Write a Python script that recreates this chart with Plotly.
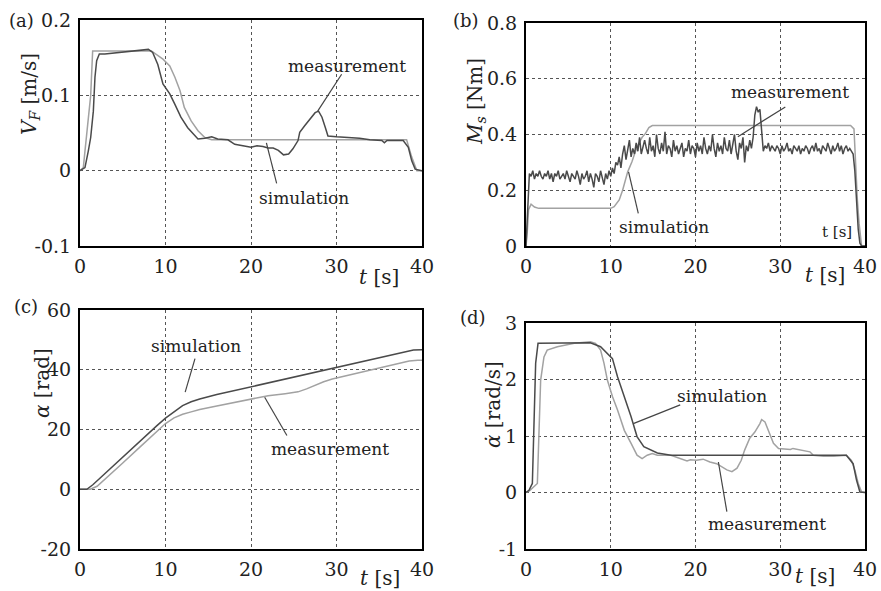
import plotly.graph_objects as go

# ---------------- data ----------------
# (a) V_F [m/s]
a_sim_t = [0, 0.39, 0.58, 0.97, 1.25, 1.48, 8.35, 9.7, 10.5, 11.1, 11.7, 12.2, 13.0, 13.8, 14.6, 15.4, 38.2, 38.8, 39.4, 40]
a_sim_v = [0, 0.004, 0.026, 0.066, 0.10, 0.159, 0.159, 0.148, 0.139, 0.124, 0.106, 0.084, 0.066, 0.053, 0.044, 0.041, 0.041, 0.018, 0.0, 0.0]
a_meas_t = [0, 0.58, 0.97, 1.25, 1.56, 1.75, 1.95, 2.26, 2.9, 4.4, 6.8, 8.0, 8.5, 9.1, 9.7, 10.5, 11.1, 11.8, 12.6, 13.8,
            14.6, 15.4, 16.1, 17.3, 18.1, 19.3, 20.0, 20.7, 21.4, 22.0, 22.6, 23.2, 23.8, 24.4, 24.9, 25.5, 25.7, 26.3,
            26.9, 27.5, 27.9, 28.3, 28.7, 29.0, 30.0, 31.6, 32.7, 33.9, 35.3, 35.6, 35.9, 37.8, 38.4, 38.8, 39.2, 40]
a_meas_v = [0, 0.004, 0.026, 0.044, 0.079, 0.124, 0.146, 0.155, 0.155, 0.157, 0.160, 0.161, 0.157, 0.141, 0.115, 0.102,
            0.088, 0.071, 0.057, 0.042, 0.043, 0.045, 0.042, 0.041, 0.035, 0.033, 0.031, 0.033, 0.032, 0.030, 0.030,
            0.027, 0.021, 0.022, 0.029, 0.040, 0.051, 0.060, 0.068, 0.077, 0.079, 0.071, 0.057, 0.046, 0.045, 0.044,
            0.043, 0.041, 0.040, 0.037, 0.040, 0.040, 0.031, 0.013, 0.002, 0.0]

# (b) M_s [Nm]
b_sim_t = [0, 0.15, 0.3, 0.6, 1.0, 1.5, 10.0, 10.4, 11.0, 11.4, 12.0, 12.5, 13.1, 13.7, 14.1, 14.5, 14.9, 38.3, 38.7, 38.9, 39.1, 39.3, 39.6, 40]
b_sim_v = [0, 0.05, 0.13, 0.15, 0.14, 0.135, 0.135, 0.141, 0.165, 0.20, 0.266, 0.302, 0.356, 0.39, 0.404, 0.425, 0.432,
           0.432, 0.42, 0.284, 0.165, 0.082, 0.0, 0.0]
b_meas_dt = 0.2  # sampling step of the measured torque [s]
b_meas_v = [0, 0.12,
            0.26, 0.25, 0.27, 0.24, 0.26, 0.25, 0.27, 0.25, 0.24, 0.26,
            0.25, 0.27, 0.24, 0.26, 0.23, 0.26, 0.25, 0.27, 0.24, 0.25,
            0.26, 0.24, 0.27, 0.25, 0.23, 0.26, 0.25, 0.24, 0.27, 0.25,
            0.22, 0.26, 0.24, 0.25, 0.27, 0.23, 0.26, 0.24, 0.21, 0.26,
            0.25, 0.23, 0.27, 0.24, 0.22, 0.26, 0.24, 0.27, 0.25,
            0.28, 0.26, 0.30, 0.29, 0.32, 0.28, 0.33, 0.36, 0.31, 0.34,
            0.38, 0.32, 0.35, 0.33, 0.37, 0.34, 0.39, 0.33, 0.36, 0.38,
            0.35, 0.33, 0.39, 0.34, 0.36, 0.32, 0.40, 0.35, 0.33, 0.37,
            0.34, 0.41, 0.33, 0.36, 0.35, 0.32, 0.38, 0.34, 0.36, 0.33,
            0.35, 0.37, 0.32, 0.35, 0.34, 0.38, 0.33, 0.36, 0.35, 0.32,
            0.37, 0.34, 0.36, 0.33, 0.39, 0.35, 0.33, 0.36, 0.34, 0.40,
            0.35, 0.32, 0.37, 0.34, 0.36, 0.33, 0.39, 0.35, 0.34, 0.38,
            0.33, 0.36, 0.40, 0.34, 0.31, 0.37, 0.35, 0.39, 0.30, 0.36,
            0.34, 0.38, 0.35, 0.39,
            0.47, 0.50, 0.48, 0.49, 0.42, 0.34,
            0.36, 0.35, 0.37, 0.34, 0.36, 0.35, 0.34, 0.36, 0.35, 0.33,
            0.36, 0.34, 0.35, 0.37, 0.34, 0.35, 0.33, 0.36, 0.35, 0.34,
            0.36, 0.33, 0.35, 0.34, 0.36, 0.35, 0.33, 0.35, 0.36, 0.34,
            0.37, 0.34, 0.35, 0.33, 0.36, 0.35, 0.34, 0.37, 0.35, 0.33,
            0.36, 0.34, 0.35, 0.37, 0.34, 0.36, 0.33, 0.35, 0.36, 0.34,
            0.35, 0.34,
            0.33, 0.27, 0.15, 0.06, 0.01, 0.0, 0.0, 0.0]
b_meas_t = [round(i * b_meas_dt, 2) for i in range(len(b_meas_v))]

# (c) alpha [rad]
c_sim_t = [0, 0.8, 1.5, 3, 5, 7, 9, 10, 11, 12, 13, 14, 16, 18, 20, 25, 30, 35, 38, 39, 40]
c_sim_v = [0, 0, 1.5, 5.5, 10.8, 16.1, 21.3, 23.8, 26.0, 28.0, 29.3, 30.2, 31.7, 33.0, 34.3, 37.6, 40.9, 44.2, 46.2, 46.6, 46.7]
c_meas_t = [0, 1.2, 2, 3, 5, 7, 8, 9, 10, 11, 12, 13, 14, 16, 18, 20, 22, 24, 25.5, 26.5, 27.5, 28.5, 29.5, 31, 33, 35, 37, 38.5, 39.5, 40]
c_meas_v = [0, 0, 1.0, 3.5, 8.8, 14.1, 16.8, 19.4, 22.0, 23.9, 25.1, 25.9, 26.7, 27.9, 29.1, 30.3, 31.3, 32.0, 32.6, 33.6,
            34.8, 36.0, 36.9, 37.9, 39.3, 40.7, 42.0, 42.9, 43.2, 43.2]

# (d) alpha-dot [rad/s]
d_sim_t = [0, 0.35, 0.75, 0.94, 1.14, 1.42, 7.6, 8.8, 9.8, 10.2, 10.8, 11.6, 12.4, 13.1, 13.9, 15.5, 17.1, 37.8, 38.6, 39.0, 39.4, 40]
d_sim_v = [0, 0.04, 0.16, 1.10, 2.29, 2.64, 2.65, 2.58, 2.43, 2.37, 2.05, 1.70, 1.34, 0.99, 0.81, 0.70, 0.66, 0.66, 0.51, 0.22, 0.01, 0]
d_meas_t = [0, 0.4, 1.34, 1.53, 1.73, 2.12, 2.5, 3.7, 5.7, 7.6, 8.2, 8.8, 9.2, 9.6, 10.2, 10.8, 11.6, 12.4, 13.1, 13.7,
            14.3, 14.9, 15.5, 17.1, 18.3, 19.0, 19.4, 20.1, 20.9, 21.7, 22.5, 23.1, 23.7, 24.3, 24.9, 25.4, 25.8, 26.4,
            27.0, 27.6, 27.8, 28.2, 28.6, 28.8, 29.2, 29.8, 31.2, 31.5, 32.7, 33.5, 33.9, 35.1, 36.3, 37.8, 38.4, 38.8,
            39.2, 39.6, 40]
d_meas_v = [0, 0.03, 0.16, 1.10, 1.99, 2.40, 2.52, 2.58, 2.64, 2.67, 2.64, 2.52, 2.29, 1.99, 1.70, 1.46, 1.10, 0.87, 0.66,
            0.60, 0.66, 0.69, 0.66, 0.66, 0.60, 0.56, 0.58, 0.57, 0.59, 0.54, 0.51, 0.45, 0.40, 0.37, 0.43, 0.57, 0.75,
            0.96, 1.07, 1.22, 1.29, 1.25, 1.10, 0.99, 0.87, 0.78, 0.76, 0.78, 0.75, 0.72, 0.66, 0.64, 0.64, 0.66, 0.57,
            0.40, 0.16, 0.01, 0]

x_ticks = [0, 10, 20, 30, 40]
a_yticks = [-0.1, 0, 0.1, 0.2]
a_ytext = ['-0.1', '0', '0.1', '0.2']
b_yticks = [0, 0.2, 0.4, 0.6, 0.8]
b_ytext = ['0', '0.2', '0.4', '0.6', '0.8']
c_yticks = [-20, 0, 20, 40, 60]
c_ytext = ['-20', '0', '20', '40', '60']
d_yticks = [-1, 0, 1, 2, 3]
d_ytext = ['-1', '0', '1', '2', '3']

# ---------------- styling ----------------
W, H = 881, 591
FONT = 'DejaVu Serif'
DARK = '#4a4a4a'
LIGHT = '#a2a2a2'
TXT = '#222222'


def px_dom_x(l, r):
    return [l / W, r / W]


def px_dom_y(t, b):
    return [1 - b / H, 1 - t / H]


fig = go.Figure()

panels = [
    ('a', 'x', 'y', [(a_sim_t, a_sim_v, LIGHT), (a_meas_t, a_meas_v, DARK)], (80, 422), (20, 246), [-0.1, 0.2], a_yticks, a_ytext),
    ('b', 'x2', 'y2', [(b_sim_t, b_sim_v, LIGHT), (b_meas_t, b_meas_v, DARK)], (526, 865), (23, 246), [0, 0.8], b_yticks, b_ytext),
    ('c', 'x3', 'y3', [(c_meas_t, c_meas_v, LIGHT), (c_sim_t, c_sim_v, DARK)], (80, 422), (310, 549), [-20, 60], c_yticks, c_ytext),
    ('d', 'x4', 'y4', [(d_meas_t, d_meas_v, LIGHT), (d_sim_t, d_sim_v, DARK)], (526, 865), (323, 549), [-1, 3], d_yticks, d_ytext),
]

layout_axes = {}
for name, xa, ya, trs, xd, yd, yr, yt, ytt in panels:
    for t, v, col in trs:
        fig.add_trace(go.Scatter(x=t, y=v, mode='lines', xaxis=xa, yaxis=ya,
                                 line=dict(color=col, width=1.5), showlegend=False, hoverinfo='skip'))
    xkey = 'xaxis' if xa == 'x' else 'xaxis' + xa[1:]
    ykey = 'yaxis' if ya == 'y' else 'yaxis' + ya[1:]
    common = dict(showline=True, linecolor='black', linewidth=2, mirror=True,
                  showgrid=True, gridcolor='#555555', griddash='dot', gridwidth=1,
                  zeroline=False, ticks='', automargin=False,
                  tickfont=dict(family=FONT, size=19, color=TXT))
    layout_axes[xkey] = dict(common, domain=px_dom_x(*xd), anchor=ya, range=[0, 40],
                             tickmode='array', tickvals=x_ticks, ticktext=[str(v) for v in x_ticks],
                             ticklabelstandoff=2)
    layout_axes[ykey] = dict(common, domain=px_dom_y(*yd), anchor=xa, range=yr,
                             tickmode='array', tickvals=yt, ticktext=ytt, ticklabelstandoff=3)

fig.update_layout(**layout_axes)

ann = []


def paper_text(x, y, text, size=19, angle=0):
    ann.append(dict(x=x / W, y=1 - y / H, xref='paper', yref='paper', text=text, showarrow=False,
                    font=dict(family=FONT, size=size, color=TXT), textangle=angle,
                    xanchor='center', yanchor='middle'))


# panel letters
paper_text(21, 20, '(a)', 18)
paper_text(466, 20, '(b)', 18)
paper_text(26, 306, '(c)', 18)
paper_text(473, 317, '(d)', 18)
# y-axis titles
paper_text(30, 94, '<i>V</i><sub><i>F</i></sub> [m/s]', 20, -90)
paper_text(476, 102, '<i>M</i><sub><i>s</i></sub> [Nm]', 20, -90)
paper_text(42, 383, '<i>α</i> [rad]', 20, -90)
paper_text(493, 405, '<i>α̇</i> [rad/s]', 20, -90)
# x-axis titles
paper_text(379, 277, '<i>t</i> [s]', 20)
paper_text(825, 275, '<i>t</i> [s]', 20)
paper_text(380, 578, '<i>t</i> [s]', 20)
paper_text(815, 576, '<i>t</i> [s]', 20)


def data_text(xa, ya, x, y, text, size=17):
    ann.append(dict(x=x, y=y, xref=xa, yref=ya, text=text, showarrow=False,
                    font=dict(family=FONT, size=size, color=TXT), xanchor='center', yanchor='middle'))


shapes = []


def leader(xa, ya, x0, y0, x1, y1):
    shapes.append(dict(type='line', xref=xa, yref=ya, x0=x0, y0=y0, x1=x1, y1=y1,
                       line=dict(color='#444444', width=1.2)))


# (a)
data_text('x', 'y', 31.2, 0.139, 'measurement')
leader('x', 'y', 30.6, 0.128, 27.8, 0.079)
data_text('x', 'y', 26.2, -0.036, 'simulation')
leader('x', 'y', 23.0, -0.017, 21.8, 0.037)
# (b)
data_text('x2', 'y2', 31.2, 0.553, 'measurement')
leader('x2', 'y2', 30.6, 0.499, 25.0, 0.392)
data_text('x2', 'y2', 16.3, 0.069, 'simulation')
leader('x2', 'y2', 13.25, 0.117, 12.1, 0.266)
data_text('x2', 'y2', 36.7, 0.05, 't [s]', 15)
# (c)
data_text('x3', 'y3', 13.6, 47.9, 'simulation')
leader('x3', 'y3', 13.45, 43.7, 12.3, 32.5)
data_text('x3', 'y3', 29.2, 13.5, 'measurement')
leader('x3', 'y3', 24.2, 18.0, 21.6, 30.8)
# (d)
data_text('x4', 'y4', 23.1, 1.71, 'simulation')
leader('x4', 'y4', 18.2, 1.55, 12.66, 1.22)
data_text('x4', 'y4', 28.4, -0.55, 'measurement')
leader('x4', 'y4', 23.7, -0.34, 22.7, 0.54)

fig.update_layout(width=W, height=H, margin=dict(l=0, r=0, t=0, b=0, autoexpand=False),
                  paper_bgcolor='white', plot_bgcolor='white',
                  annotations=ann, shapes=shapes, showlegend=False)

fig.write_html('out.html', config={'displayModeBar': False},
               post_script="document.body.style.margin='0';document.body.style.overflow='hidden';")
